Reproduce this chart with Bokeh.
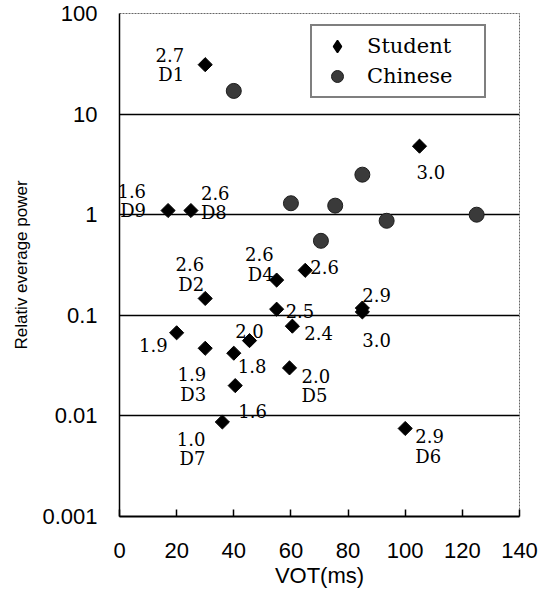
from bokeh.plotting import figure
from bokeh.models import (Range1d, FixedTicker, CustomJSTickFormatter, ColumnDataSource,
                          Legend, LegendItem)
from bokeh.core.properties import value
from bokeh.embed import file_html
from bokeh.resources import INLINE
import math

# ---------------- data ----------------
x_ticks = [0, 20, 40, 60, 80, 100, 120, 140]
y_ticks = [0.001, 0.01, 0.1, 1, 10, 100]
y_tick_labels = ["0.001", "0.01", "0.1", "1", "10", "100"]
grid_levels = [0.01, 0.1, 1, 10]

student_vot = [30, 17, 25, 105, 30, 55, 65, 55, 85, 85, 20, 60.5, 45.5, 30, 40, 59.5, 40.5, 36, 100]
student_power = [31, 1.1, 1.1, 4.8, 0.147, 0.224, 0.28, 0.115, 0.118, 0.108, 0.067, 0.078,
                 0.056, 0.047, 0.042, 0.030, 0.020, 0.0087, 0.0075]
student_score = ["2.7", "1.6", "2.6", "3.0", "2.6", "2.6", "2.6", "2.5", "2.9", "3.0", "1.9", "2.4",
                 "2.0", "1.9", "1.8", "2.0", "1.6", "1.0", "2.9"]
student_id = ["D1", "D9", "D8", "", "D2", "D4", "", "", "", "", "", "",
              "", "D3", "", "D5", "", "D7", "D6"]

chinese_vot = [40, 60, 75.5, 85, 93.5, 125, 70.5]
chinese_power = [17, 1.3, 1.23, 2.5, 0.87, 1.0, 0.55]

# ---------------- label placement (style) ----------------
lab_dx = [-21, -22, 10, -3, -1, -3, 5, 9, 0, 0, -9, 12, 0, 1, 4, 12, 3, -17, 10]
lab_dy = [-10, -20, -18, 26, -34, -26, -3, 2, -13, 28, 12, 7, -10, 26, 13, 8, 25, 17, 8]
lab_align = ["right", "right", "left", "left", "right", "right", "left", "left", "left", "left",
             "right", "left", "center", "right", "left", "left", "left", "right", "left"]
LINE = 20

p = figure(width=540, height=606, x_range=Range1d(0, 140), y_range=Range1d(0.001, 100),
           y_axis_type="log", output_backend="svg", toolbar_location=None,
           min_border_left=119, min_border_right=21, min_border_top=13, min_border_bottom=90)
p.background_fill_color = "white"
p.border_fill_color = "white"
p.outline_line_color = "#666666"
p.outline_line_dash = "2 1"
p.outline_line_width = 1

# grid
p.xgrid.visible = False
p.ygrid.ticker = FixedTicker(ticks=grid_levels)
p.ygrid.grid_line_color = "black"
p.ygrid.grid_line_width = 1.5
p.ygrid.minor_grid_line_color = None

# x axis
xa = p.xaxis[0]
xa.ticker = FixedTicker(ticks=x_ticks)
xa.axis_line_color = "black"
xa.axis_line_width = 2
xa.major_tick_in = 7
xa.major_tick_out = 0
xa.major_tick_line_width = 1.5
xa.minor_tick_line_color = None
xa.major_label_text_font = "Liberation Sans"
xa.major_label_text_font_size = "22px"
xa.major_label_text_color = "black"
xa.major_label_standoff = 26
xa.axis_label = "VOT(ms)"
xa.axis_label_text_font = "Liberation Sans"
xa.axis_label_text_font_size = "22px"
xa.axis_label_text_font_style = "normal"
xa.axis_label_text_color = "black"
xa.axis_label_standoff = 2

# y axis
ya = p.yaxis[0]
ya.ticker = FixedTicker(ticks=y_ticks)
ya.formatter = CustomJSTickFormatter(args=dict(yt=y_ticks, yl=y_tick_labels), code="""
    for (let i = 0; i < yt.length; i++) {
        if (Math.abs(Math.log10(yt[i]) - Math.log10(tick)) < 1e-6) return yl[i];
    }
    return '';
""")
ya.axis_line_color = "black"
ya.axis_line_width = 1.5
ya.major_tick_in = 0
ya.major_tick_out = 0
ya.minor_tick_line_color = None
ya.major_label_text_font = "Liberation Sans"
ya.major_label_text_font_size = "22px"
ya.major_label_text_color = "black"
ya.major_label_standoff = 22
ya.axis_label = "Relativ everage power"
ya.axis_label_text_font = "Liberation Sans"
ya.axis_label_text_font_size = "17px"
ya.axis_label_text_font_style = "normal"
ya.axis_label_text_color = "black"
ya.axis_label_standoff = 8

# points
stu_src = ColumnDataSource(dict(x=student_vot, y=student_power, top=student_score, bot=student_id,
                                dx=lab_dx, dy=lab_dy, dy2=[d + LINE for d in lab_dy], align=lab_align))
chi_src = ColumnDataSource(dict(x=chinese_vot, y=chinese_power))

r_chi = p.scatter("x", "y", source=chi_src, marker="circle", size=15,
                  fill_color="#3a3a3a", line_color="#1e1e1e", line_width=1)
r_stu = p.scatter("x", "y", source=stu_src, marker="square", size=10, angle=math.pi / 4,
                  fill_color="black", line_color="black")
# legend proxy (draws a diamond swatch in the legend; its point is off-plot / NaN)
r_stu_leg = p.scatter(x=[float("nan")], y=[float("nan")], marker="diamond",
                      fill_color="black", line_color="black", line_width=1.5)

for col, dycol in (("top", "dy"), ("bot", "dy2")):
    p.text("x", "y", text=col, source=stu_src, x_offset="dx", y_offset=dycol,
           text_align="align", text_baseline="alphabetic",
           text_font=value("DejaVu Serif"), text_font_size="18px", text_color="black")

legend = Legend(items=[LegendItem(label="Student", renderers=[r_stu_leg]),
                       LegendItem(label="Chinese", renderers=[r_chi])],
                location=(191, 418))
legend.label_text_font = "DejaVu Serif"
legend.label_text_font_size = "21px"
legend.label_text_color = "black"
legend.border_line_color = "black"
legend.border_line_width = 2
legend.background_fill_color = "white"
legend.background_fill_alpha = 1
legend.padding = 5
legend.spacing = 0
legend.margin = 0
legend.glyph_width = 40
legend.glyph_height = 30
legend.label_standoff = 10
legend.label_width = 112
legend.label_height = 30
p.add_layout(legend, "center")

open("out.html", "w").write(file_html(p, INLINE))
